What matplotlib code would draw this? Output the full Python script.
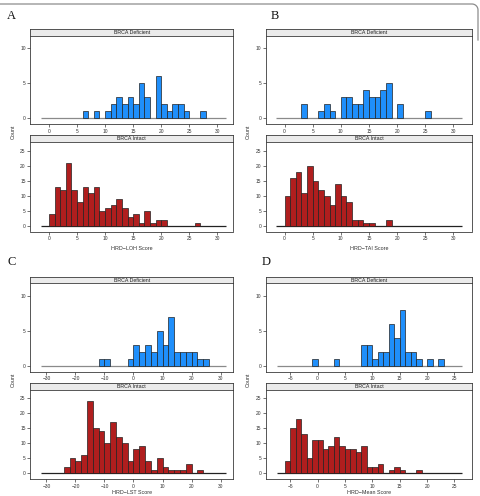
import numpy as np
import matplotlib
matplotlib.use("Agg")
import matplotlib.pyplot as plt
from matplotlib.lines import Line2D

plt.rcParams["font.family"] = ["Liberation Sans", "DejaVu Sans"]

W, H = 481, 496

# HRD-LOH (panel A), bin width 1
loh_def_left = [6, 8, 10, 11, 12, 13, 14, 15, 16, 17, 19, 20, 21, 22, 23, 24, 27]
loh_def_count = [1, 1, 1, 2, 3, 2, 3, 2, 5, 3, 6, 2, 1, 2, 2, 1, 1]
loh_int_left = [0, 1, 2, 3, 4, 5, 6, 7, 8, 9, 10, 11, 12, 13, 14, 15, 16, 17, 18, 19, 20, 26]
loh_int_count = [4, 13, 12, 21, 12, 8, 13, 11, 13, 5, 6, 7, 9, 6, 3, 4, 1, 5, 1, 2, 2, 1]

# HRD-TAI (panel B), bin width 1
tai_def_left = [3, 6, 7, 8, 10, 11, 12, 13, 14, 15, 16, 17, 18, 20, 25]
tai_def_count = [2, 1, 2, 1, 3, 3, 2, 2, 4, 3, 3, 4, 5, 2, 1]
tai_int_left = [0, 1, 2, 3, 4, 5, 6, 7, 8, 9, 10, 11, 12, 13, 14, 15, 18]
tai_int_count = [10, 16, 18, 11, 20, 15, 12, 10, 7, 14, 10, 8, 2, 2, 1, 1, 2]

# HRD-LST (panel C), bin width 2
lst_def_left = [-12, -10, -2, 0, 2, 4, 6, 8, 10, 12, 14, 16, 18, 20, 22, 24]
lst_def_count = [1, 1, 1, 3, 2, 3, 2, 5, 3, 7, 2, 2, 2, 2, 1, 1]
lst_int_left = [-24, -22, -20, -18, -16, -14, -12, -10, -8, -6, -4, -2, 0, 2, 4, 6,
                8, 10, 12, 14, 16, 18, 22]
lst_int_count = [2, 5, 4, 6, 24, 15, 14, 10, 17, 12, 10, 4, 8, 9, 4, 1, 5, 2, 1, 1, 1, 3, 1]

# HRD-Mean (panel D), bin width 1
mean_def_left = [-1, 3, 8, 9, 10, 11, 12, 13, 14, 15, 16, 17, 18, 20, 22]
mean_def_count = [1, 1, 3, 3, 1, 2, 2, 6, 4, 8, 2, 2, 1, 1, 1]
mean_int_left = [-6, -5, -4, -3, -2, -1, 0, 1, 2, 3, 4, 5, 6, 7, 8, 9, 10, 11, 13, 14, 15, 18]
mean_int_count = [4, 15, 18, 13, 5, 11, 11, 8, 9, 12, 9, 8, 8, 7, 9, 2, 2, 3, 1, 2, 1, 1]

BLUE = "#1f8ffb"
RED = "#b01e1e"
EDGE = "#222222"
SPINE = "#3a3a3a"
TXT = "#333333"

fig = plt.figure(figsize=(W / 100, H / 100), dpi=100)


def box(x0, y0, x1, y1):
    return [x0 / W, 1 - y1 / H, (x1 - x0) / W, (y1 - y0) / H]


def strip(x0, x1, y0, y1, label):
    s = fig.add_axes(box(x0, y0, x1, y1))
    s.set_facecolor("#ebebeb")
    s.set_xticks([])
    s.set_yticks([])
    for sp in s.spines.values():
        sp.set_color(SPINE)
        sp.set_linewidth(0.6)
    s.text(0.5, 0.45, label, ha="center", va="center", fontsize=3.8, color="#222222",
           transform=s.transAxes)


def facet(x0, x1, y0, y1, left, count, width, color, base, xlim, ylim, yticks, xticks, base_col):
    ax = fig.add_axes(box(x0, y0, x1, y1))
    ax.hlines(0, base[0], base[1], color=base_col, lw=0.9, zorder=1)
    ax.bar(left, count, width=width, align="edge", color=color, edgecolor=EDGE,
           linewidth=0.5, zorder=2)
    ax.set_xlim(*xlim)
    ax.set_ylim(*ylim)
    ax.set_yticks(yticks)
    ax.set_xticks(xticks)
    ax.tick_params(labelsize=3.5, length=2, width=0.5, pad=1.5, colors=SPINE, labelcolor=TXT)
    for sp in ax.spines.values():
        sp.set_color(SPINE)
        sp.set_linewidth(0.6)
    return ax


panels = [
    dict(x0=30.5, x1=233, top=29, tag="A", tag_xy=(7, 16), xlabel="HRD\u2212LOH Score",
         d=(loh_def_left, loh_def_count), i=(loh_int_left, loh_int_count), w=1,
         base=(-1.5, 31.6), xlim=(-3.3, 32.8), xticks=[0, 5, 10, 15, 20, 25, 30], cx=13, xl=248),
    dict(x0=266, x1=472, top=29, tag="B", tag_xy=(271, 16), xlabel="HRD\u2212TAI Score",
         d=(tai_def_left, tai_def_count), i=(tai_int_left, tai_int_count), w=1,
         base=(-1.5, 31.5), xlim=(-3.3, 33.3), xticks=[0, 5, 10, 15, 20, 25, 30], cx=248, xl=248),
    dict(x0=30.5, x1=233, top=276.5, tag="C", tag_xy=(7, 262), xlabel="HRD\u2212LST Score",
         d=(lst_def_left, lst_def_count), i=(lst_int_left, lst_int_count), w=2,
         base=(-32, 32), xlim=(-35.5, 34.3), xticks=[-30, -20, -10, 0, 10, 20, 30], cx=13, xl=492),
    dict(x0=266, x1=472, top=276.5, tag="D", tag_xy=(262, 262), xlabel="HRD\u2212Mean Score",
         d=(mean_def_left, mean_def_count), i=(mean_int_left, mean_int_count), w=1,
         base=(-7.4, 26.3), xlim=(-9.4, 28.2), xticks=[-5, 0, 5, 10, 15, 20, 25], cx=248, xl=492),
]

for p in panels:
    t = p["top"]
    x0, x1 = p["x0"], p["x1"]
    strip(x0, x1, t, t + 6.8, "BRCA Deficient")
    facet(x0, x1, t + 6.8, t + 95, p["d"][0], p["d"][1], p["w"], BLUE, p["base"],
          p["xlim"], (-0.8, 11.8), [0, 5, 10], p["xticks"], "#8a8a8a")
    strip(x0, x1, t + 106, t + 113, "BRCA Intact")
    facet(x0, x1, t + 113, t + 202.5, p["i"][0], p["i"][1], p["w"], RED, p["base"],
          p["xlim"], (-1.9, 27.9), [0, 5, 10, 15, 20, 25], p["xticks"], "#222222")
    fig.text(p["tag_xy"][0] / W, 1 - p["tag_xy"][1] / H, p["tag"], ha="left", va="center",
             fontsize=9, family="Liberation Serif", color="#111111")
    fig.text((x0 + x1) / 2 / W, 1 - p["xl"] / H, p["xlabel"], ha="center", va="center",
             fontsize=3.9, color=TXT)
    fig.text(p["cx"] / W, 1 - (t + 103) / H, "Count", ha="center", va="center",
             rotation=90, fontsize=3.9, color=TXT)

# rounded frame at the top of the figure
theta = np.linspace(np.pi / 2, 0, 12)
r = 6
xs = [0] + list(472 + r * np.cos(theta)) + [478]
ys = [4] + list(10 - r * np.sin(theta)) + [40]
fig.add_artist(Line2D([x / W for x in xs], [1 - y / H for y in ys],
                      transform=fig.transFigure, color="#8c8c8c", lw=0.9))

fig.savefig("out.png", dpi=100)
